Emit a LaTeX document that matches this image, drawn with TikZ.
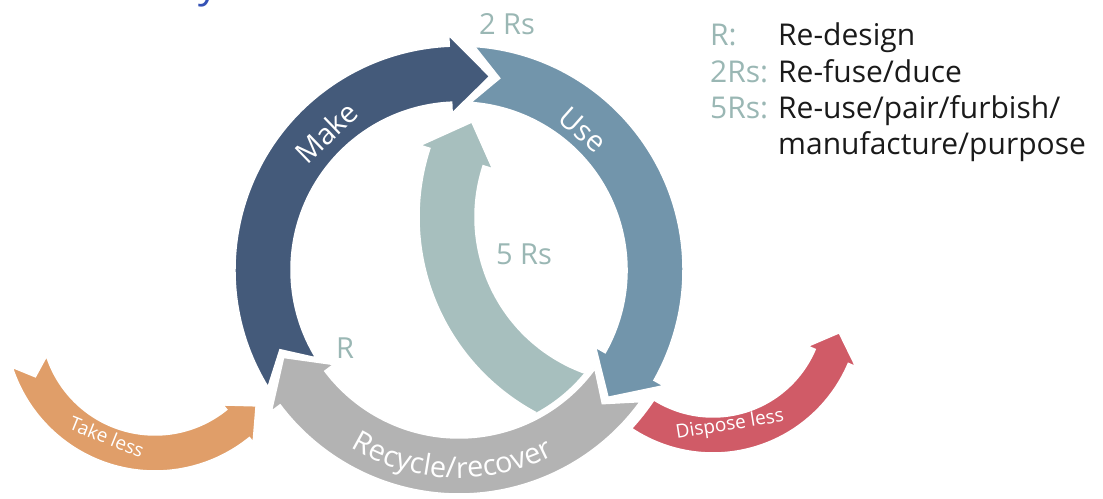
\documentclass[tikz,border=0pt]{standalone}
\usepackage{fontspec}
\setmainfont{Open Sans}
\usetikzlibrary{decorations.text}
\definecolor{makeblue}{HTML}{445A7A}
\definecolor{useblue}{HTML}{7295AB}
\definecolor{recgray}{HTML}{B3B3B3}
\definecolor{fiveteal}{HTML}{A7BFBE}
\definecolor{takeorange}{HTML}{E09E69}
\definecolor{disposered}{HTML}{D05B67}
\definecolor{rlabel}{HTML}{9AB7B4}
\definecolor{titleblue}{HTML}{3552B5}
\definecolor{legendtext}{HTML}{1A1A1A}
\tikzset{
  band/.style={draw=white, line width=1.5pt},
  ringtext/.style={text=white, font=\fontsize{29}{34}\selectfont, inner sep=0pt},
  sidetext/.style={text=white, font=\fontsize{19}{23}\selectfont, inner sep=0pt},
  rlab/.style={text=rlabel, font=\fontsize{29}{34}\selectfont, inner sep=0pt, anchor=base},
  legkey/.style={text=rlabel, font=\fontsize{30}{36}\selectfont, inner sep=0pt, anchor=base west},
  legtext/.style={text=legendtext, font=\fontsize{30}{36}\selectfont, inner sep=0pt, anchor=base west}
}
% bent arrow along a circle:
% #1 colour, #2 centre, #3 mid radius, #4 half shaft, #5 half head,
% #6 tail angle, #7 notch angle, #8 head base angle, #9 tip angle
\newcommand{\bandarrow}[9]{%
  \filldraw[band, fill=#1]
    ([shift={(#6:#3+#4)}]#2) arc[start angle=#6, end angle=#8, radius=#3+#4]
    -- ([shift={(#8:#3+#5)}]#2) -- ([shift={(#9:#3)}]#2)
    -- ([shift={(#8:#3-#5)}]#2) -- ([shift={(#8:#3-#4)}]#2)
    arc[start angle=#8, end angle=#6, radius=#3-#4]
    -- ([shift={(#7:#3)}]#2) -- cycle;}

\begin{document}
\begin{tikzpicture}[x=1pt, y=1pt]
  \useasboundingbox (0,0) rectangle (1103,498);
  \coordinate (C) at (459,228);   % main ring
  \coordinate (T) at (155,177);   % take less
  \coordinate (D) at (713,192);   % dispose less
  \coordinate (F) at (641,281);   % 5 Rs

  % heading, mostly above the page edge
  \node[anchor=base east, text=titleblue, font=\fontsize{40}{48}\selectfont, inner sep=0pt] (title) at (219,500) {Circular economy};

  % side arrows
  \bandarrow{takeorange}{T}{132}{18}{24}{198}{205}{309}{320}
  \bandarrow{disposered}{D}{129}{18}{26}{225}{225}{337}{348}
  \fill[white] (C) circle (235);

  % 5 Rs loop, cut by the ring
  \begin{scope}
    \clip (C) circle (162);
    \bandarrow{fiveteal}{F}{194}{28}{38}{255}{255}{162}{150.7}
  \end{scope}

  % main ring
  \bandarrow{makeblue}{C}{196}{28}{39}{211.5}{204}{92.5}{81}
  \bandarrow{useblue}{C}{196}{28}{39}{86}{78}{-29.5}{-40.5}
  \bandarrow{recgray}{C}{196}{28}{39}{-36}{-43}{-143}{-153.5}

  % texts on the arrows
  \node[ringtext, rotate=44] (makelab) at ([shift={(134:191)}]C) {Make};
  \node[ringtext, rotate=-41.5] (uselab) at ([shift={(48.5:187)}]C) {Use};
  \path[decorate, decoration={text along path, text align=center, text color=white,
    text={|\fontsize{29}{34}\selectfont|Recycle/recover}}]
    ([shift={(238:208)}]C) arc[start angle=238, end angle=298, radius=208];
  \node[sidetext, rotate=-22] (takelab) at (107,61) {Take less};
  \node[sidetext, rotate=9] (disposelab) at (730,73) {Dispose less};

  % R labels
  \node[rlab] (tworlab) at (507,463) {2 Rs};
  \node[rlab] (fiverlab) at (524,233) {5 Rs};
  \node[rlab] (onerlab) at (345,139) {R};

  % legend
  \node[legkey] (keyone) at (710,452) {R:};
  \node[legtext] (txtone) at (778,452) {Re-design};
  \node[legkey] (keytwo) at (710,415.5) {2Rs:};
  \node[legtext] (txttwo) at (778,415.5) {Re-fuse/duce};
  \node[legkey] (keyfive) at (710,379.5) {5Rs:};
  \node[legtext] (txtfive) at (778,379.5) {Re-use/pair/furbish/};
  \node[legtext] (txtfivecont) at (778,343) {manufacture/purpose};
\end{tikzpicture}
\end{document}
